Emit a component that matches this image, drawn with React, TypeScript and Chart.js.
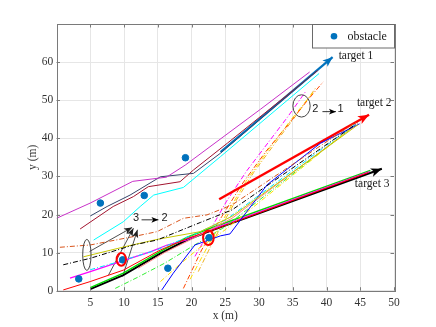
import React, { useEffect, useRef } from 'react';
import { Chart, registerables } from 'chart.js';
Chart.register(...registerables);

type P = [number, number];

const xTicks = [5, 10, 15, 20, 25, 30, 35, 40, 45, 50];
const yTicks = [0, 10, 20, 30, 40, 50, 60];

const obstacleX = [3.3, 6.5, 9.8, 13.0, 16.5, 19.1, 22.6];
const obstacleY = [3.1, 23.0, 8.1, 25.0, 5.9, 34.9, 13.9];

// trajectories towards target 1
const t1Magenta: P[] = [[0, 19], [5, 23], [11.3, 28.7], [16.3, 29.8], [19.1, 33], [30.2, 47.6], [37.5, 57.4]];
const t1Navy: P[] = [[5, 19.6], [7.5, 22.1], [10.9, 25.1], [15.4, 29.9], [20.3, 30.8], [24.3, 36.1], [38.5, 57.6]];
const t1Maroon: P[] = [[3.5, 16.2], [8.4, 22.1], [11.4, 24.7], [13.6, 27.3], [18.3, 28.6], [20.3, 31.7], [25.3, 38.7], [38.7, 57.8]];
const t1Cyan: P[] = [[5.5, 13.3], [9.9, 18.1], [12.4, 22.1], [14.4, 25.1], [18.8, 27.1], [24.3, 35.2], [38.9, 57.0]];
const target1Arrow: P[] = [[24.3, 36.4], [40.9, 61.3]];

// trajectories towards target 2
const t2Orange: P[] = [[0.5, 11.4], [5, 12], [11.4, 14.2], [14.9, 15.5], [18.8, 19], [22.3, 19.9], [26, 22.5], [44.4, 44.3]];
const t2Black: P[] = [[1, 6.8], [5, 8.5], [11.4, 12], [14.9, 13.3], [21.3, 17.9], [26, 21.2], [44.6, 44]];
const t2Olive: P[] = [[4, 8.9], [10, 11.5], [15, 13.5], [21.3, 15.5], [26, 19.5], [44.7, 43.6]];
const t2Blue: P[] = [[15.6, 0.2], [17.3, 4.6], [20.5, 12], [24.3, 14.4], [25.7, 14.9], [31.2, 27.8], [39.1, 38.7], [44.9, 43.8]];
const t2Cyan: P[] = [[5, 5.5], [9, 7.5], [15, 10.8], [20, 14.5], [25, 18.5], [44.2, 43.6]];
const t2Yellow: P[] = [[15.4, 2.4], [18, 6.5], [21, 11], [25, 16], [44, 43.2]];
const t2Green: P[] = [[8.7, 0.6], [12, 3.5], [16, 7.2], [20, 11.5], [25, 16.8], [44.2, 43.4]];
const t2Salmon: P[] = [[12.1, 5.9], [16, 10], [20, 13.5], [26, 19], [44, 43]];
const target2Arrow: P[] = [[24.1, 24], [46.3, 46.2]];

// trajectories towards target 3
const t3Red: P[] = [[1, 0.2], [5, 2.4], [9.9, 5.4], [15.4, 10.7], [19.5, 13.8], [22.5, 15.5], [46.2, 31]];
const t3Magenta: P[] = [[2, 3.3], [5, 5], [10.9, 8.5], [13.9, 10.2], [16.4, 12], [19.3, 13.3], [22.5, 15.8], [46.4, 31.3]];
const t3Green: P[] = [[5, 0.8], [9.9, 4.6], [15.4, 10.3], [19.3, 14], [22.5, 16.2], [46.5, 31.6]];
const target3Arrow: P[] = [[5, 0.4], [9.9, 4.1], [15.4, 9.8], [19.3, 13.3], [22.5, 15.5], [48.2, 32]];

// switching trajectories (2 -> 1)
const s21Red: P[] = [[18.8, 0.6], [21.5, 10.7], [24.5, 19.5], [27.5, 28], [31, 36.5], [34.5, 44], [37.2, 50], [39.5, 54.8]];
const s21Yellow: P[] = [[19.8, 3], [22.2, 11], [24.8, 19], [28, 28.5], [31.4, 37], [34.8, 45], [38, 52]];
const s21Magenta: P[] = [[20.5, 9], [22.8, 16], [25.2, 23.5], [28.2, 31.5], [31.2, 38.5], [34.2, 45.5], [37, 52.5]];
const s21Gold: P[] = [[21, 5], [23.5, 14], [26.2, 22.5], [29.2, 31], [32.5, 39], [35.5, 46], [38.5, 53.5]];

// switching arrows (3 -> 2)
const q1: P[] = [[4.9, 10.3], [11.2, 16.6]];
const q2: P[] = [[7.7, 4.1], [11.4, 16.4]];
const q3: P[] = [[9.8, 3.7], [12.0, 16.0]];

// small annotation arrows
const note32Arrow: P[] = [[12.6, 18.6], [15.1, 18.6]];
const note21Arrow: P[] = [[39.4, 47.0], [41.4, 47.0]];

// ellipses: [cx, cy, rx, ry]
const blackEllipses: number[][] = [[36.3, 48.5, 1.28, 2.93], [4.5, 9.4, 0.62, 4.07]];
const redEllipses: number[][] = [[9.6, 8.2, 0.69, 1.67], [22.5, 13.9, 0.79, 1.88]];

// text labels: [x, y, text]
const targetLabels: [number, number, string][] = [[41.8, 61.5, 'target 1'], [44.5, 49.2, 'target 2'], [44.2, 28.0, 'target 3']];
const noteLabels: [number, number, string][] = [[38.35, 47.6, '2'], [42.1, 47.6, '1'], [11.8, 19.0, '3'], [16.0, 19.0, '2']];

const serif = '"Liberation Serif", "Times New Roman", serif';
const sans = '"Liberation Sans", Arial, sans-serif';
const DD = [5, 2, 1, 2];

export default function App() {
  const ref = useRef<HTMLCanvasElement>(null);
  useEffect(() => {
    document.body.style.margin = '0';
    const series: any[] = [
      { d: t1Magenta, c: '#c832c8', w: 1 },
      { d: t1Navy, c: '#35456a', w: 1 },
      { d: t1Maroon, c: '#a2142f', w: 1 },
      { d: t1Cyan, c: '#00ffff', w: 1 },
      { d: target1Arrow, c: '#0072BD', w: 2.2, head: 10 },
      { d: t2Orange, c: '#D95319', w: 1, dash: DD },
      { d: t2Black, c: '#000000', w: 1, dash: DD },
      { d: t2Olive, c: '#c8c800', w: 1 },
      { d: t2Blue, c: '#0000ff', w: 1 },
      { d: t2Cyan, c: '#00e0ff', w: 1, dash: DD },
      { d: t2Yellow, c: '#ffe000', w: 1, dash: DD },
      { d: t2Green, c: '#33ee33', w: 1, dash: DD },
      { d: t2Salmon, c: '#ff8080', w: 1 },
      { d: target2Arrow, c: '#ff0000', w: 2.4, head: 11 },
      { d: t3Red, c: '#ff0000', w: 1 },
      { d: t3Magenta, c: '#ff00ff', w: 1.2 },
      { d: t3Green, c: '#00dd00', w: 1.4 },
      { d: target3Arrow, c: '#000000', w: 2, head: 11 },
      { d: s21Red, c: '#ff4500', w: 1, dash: DD },
      { d: s21Yellow, c: '#ffe000', w: 1, dash: DD },
      { d: s21Magenta, c: '#ff00ff', w: 1, dash: DD },
      { d: s21Gold, c: '#EDB120', w: 1, dash: DD },
      { d: q1, c: '#222222', w: 0.8, head: 8 },
      { d: q2, c: '#222222', w: 0.8, head: 8 },
      { d: q3, c: '#222222', w: 0.8, head: 8 },
      { d: note32Arrow, c: '#000000', w: 0.8, head: 7 },
      { d: note21Arrow, c: '#000000', w: 0.8, head: 7 },
    ];
    const datasets: any[] = [
      {
        label: 'obstacle',
        data: obstacleX.map((x, i) => ({ x, y: obstacleY[i] })),
        backgroundColor: '#0072BD',
        borderColor: '#0072BD',
        pointRadius: 3.3,
        showLine: false,
      },
      ...series.map((s, i) => ({
        label: 'traj' + i,
        data: s.d.map((p: P) => ({ x: p[0], y: p[1] })),
        borderColor: s.c,
        backgroundColor: s.c,
        borderWidth: s.w,
        borderDash: s.dash || [],
        pointRadius: 0,
        showLine: true,
        fill: false,
        tension: 0,
        head: s.head || 0,
      })),
    ];

    const deco = {
      id: 'deco',
      afterDatasetsDraw(chart: any) {
        const { ctx, scales } = chart;
        const xs = scales.x, ys = scales.y;
        chart.data.datasets.forEach((ds: any, i: number) => {
          if (!ds.head) return;
          const pts = chart.getDatasetMeta(i).data;
          const p1 = pts[pts.length - 2], p2 = pts[pts.length - 1];
          const a = Math.atan2(p2.y - p1.y, p2.x - p1.x);
          const L = ds.head, W = L * 0.4;
          const c = Math.cos(a), s = Math.sin(a);
          ctx.save();
          ctx.fillStyle = ds.borderColor;
          ctx.beginPath();
          ctx.moveTo(p2.x, p2.y);
          ctx.lineTo(p2.x - L * c + W * s, p2.y - L * s - W * c);
          ctx.lineTo(p2.x - L * c * 0.75, p2.y - L * s * 0.75);
          ctx.lineTo(p2.x - L * c - W * s, p2.y - L * s + W * c);
          ctx.closePath();
          ctx.fill();
          ctx.restore();
        });
        const drawE = (e: number[], color: string, lw: number) => {
          const cx = xs.getPixelForValue(e[0]);
          const cy = ys.getPixelForValue(e[1]);
          const rx = Math.abs(xs.getPixelForValue(e[0] + e[2]) - cx);
          const ry = Math.abs(ys.getPixelForValue(e[1] + e[3]) - cy);
          ctx.save();
          ctx.strokeStyle = color;
          ctx.lineWidth = lw;
          ctx.beginPath();
          ctx.ellipse(cx, cy, rx, ry, 0, 0, Math.PI * 2);
          ctx.stroke();
          ctx.restore();
        };
        blackEllipses.forEach((e) => drawE(e, '#444444', 1));
        redEllipses.forEach((e) => drawE(e, '#ff0000', 2));
        ctx.save();
        ctx.fillStyle = '#1a1a1a';
        ctx.textBaseline = 'middle';
        ctx.textAlign = 'left';
        ctx.font = '11.5px ' + serif;
        targetLabels.forEach(([x, y, t]) => ctx.fillText(t, xs.getPixelForValue(x), ys.getPixelForValue(y)));
        ctx.textAlign = 'center';
        ctx.font = '11px ' + sans;
        noteLabels.forEach(([x, y, t]) => ctx.fillText(t, xs.getPixelForValue(x), ys.getPixelForValue(y)));
        ctx.restore();
      },
      afterDraw(chart: any) {
        const { ctx, chartArea: a, scales } = chart;
        const xs = scales.x, ys = scales.y;
        ctx.save();
        ctx.strokeStyle = '#7a7a7a';
        ctx.lineWidth = 1;
        ctx.strokeRect(Math.round(a.left) + 0.5, Math.round(a.top) + 0.5, Math.round(a.right - a.left), Math.round(a.bottom - a.top));
        const tl = 3.5;
        ctx.beginPath();
        xTicks.forEach((v) => {
          const px = Math.round(xs.getPixelForValue(v)) + 0.5;
          ctx.moveTo(px, a.bottom); ctx.lineTo(px, a.bottom - tl);
          ctx.moveTo(px, a.top); ctx.lineTo(px, a.top + tl);
        });
        yTicks.forEach((v) => {
          const py = Math.round(ys.getPixelForValue(v)) + 0.5;
          ctx.moveTo(a.left, py); ctx.lineTo(a.left + tl, py);
          ctx.moveTo(a.right, py); ctx.lineTo(a.right - tl, py);
        });
        ctx.stroke();
        // legend
        const lw = 82, lh = 23.5;
        const lx = Math.round(a.right - lw) + 0.5, ly = Math.round(a.top) + 0.5;
        ctx.fillStyle = '#ffffff';
        ctx.fillRect(lx, ly, lw, lh);
        ctx.strokeStyle = '#6a6a6a';
        ctx.strokeRect(lx, ly, lw, lh);
        ctx.fillStyle = '#0072BD';
        ctx.beginPath();
        ctx.arc(lx + 21.5, ly + lh / 2, 3.3, 0, Math.PI * 2);
        ctx.fill();
        ctx.fillStyle = '#1a1a1a';
        ctx.font = '12px ' + serif;
        ctx.textBaseline = 'middle';
        ctx.textAlign = 'left';
        ctx.fillText('obstacle', lx + 35, ly + lh / 2 + 0.5);
        ctx.restore();
      },
    };

    const chart = new Chart(ref.current as HTMLCanvasElement, {
      type: 'scatter',
      data: { datasets },
      options: {
        animation: false,
        responsive: false,
        events: [],
        layout: { padding: { left: 0, top: 24, right: 42, bottom: 0 } },
        plugins: { legend: { display: false }, tooltip: { enabled: false } },
        scales: {
          x: {
            type: 'linear',
            min: 0,
            max: 50,
            afterBuildTicks: (s: any) => { s.ticks = xTicks.map((v) => ({ value: v })); },
            afterFit: (s: any) => { s.height = 36.3; },
            grid: { color: '#e6e6e6', drawTicks: false },
            border: { display: false },
            ticks: { padding: 5, color: '#333333', font: { family: serif, size: 11.5 }, maxRotation: 0 },
            title: { display: true, text: 'x (m)', color: '#333333', font: { family: serif, size: 11.5 }, padding: { top: 0, bottom: 4.4 } },
          },
          y: {
            type: 'linear',
            min: 0,
            max: 70,
            afterBuildTicks: (s: any) => { s.ticks = yTicks.map((v) => ({ value: v })); },
            afterFit: (s: any) => { s.width = 56.5; },
            grid: { color: '#e6e6e6', drawTicks: false },
            border: { display: false },
            ticks: { padding: 3.2, color: '#333333', font: { family: serif, size: 11.5 } },
            title: { display: true, text: 'y (m)', color: '#333333', font: { family: serif, size: 11.5 }, padding: { top: 25.6, bottom: 0 } },
          },
        },
      } as any,
      plugins: [deco],
    });
    return () => chart.destroy();
  }, []);
  return (
    <div style={{ width: 436, height: 327 }}>
      <canvas ref={ref} width={436} height={327} style={{ display: 'block' }} />
    </div>
  );
}
